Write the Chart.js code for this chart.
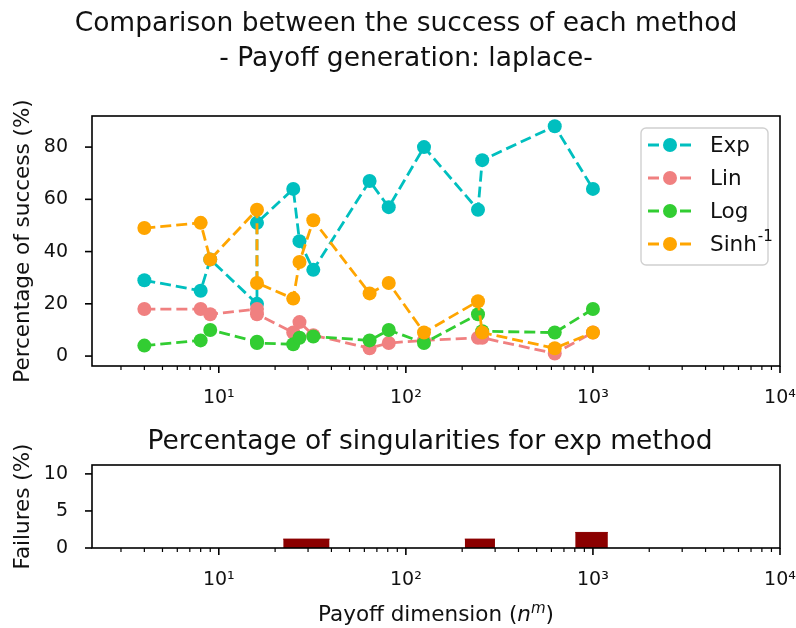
<!DOCTYPE html>
<html>
<head>
<meta charset="utf-8">
<script src="https://cdn.jsdelivr.net/npm/chart.js@4.4.1/dist/chart.umd.min.js"></script>
<style>
  html, body { margin: 0; padding: 0; background: #fff; overflow: hidden; width: 796px; height: 628px; }
  canvas { position: absolute; left: 0; }
  #successChart { top: 0; }
  #failChart { top: 400px; }
</style>
</head>
<body>
<canvas id="successChart" width="840" height="420"></canvas>
<canvas id="failChart" width="840" height="228"></canvas>
<script>
// Payoff dimensions (n^m) tested
const dims = [4, 8, 9, 16, 16, 25, 27, 32, 64, 81, 125, 243, 256, 625, 1000];

// Success rate (%) of each method
const expSuccess  = [29, 25, 37, 20, 51, 64, 44, 33, 67, 57, 80, 56, 75, 88, 64];
const linSuccess  = [18, 18, 16, 18, 16, 9, 13, 8, 3, 5, 6, 7, 7, 1, 9];
const logSuccess  = [4, 6, 10, 5.5, 5, 4.5, 7, 7.5, 6, 10, 5, 16, 9.5, 9, 18];
const sinhSuccess = [49, 51, 37, 56, 28, 22, 36, 52, 24, 28, 9, 21, 9, 3, 9];

// Singularities of the exp method: bar centre, bar width, failure rate (%)
const failCenters = [30.6, 253, 1003];
const failWidths  = [17, 93, 398];
const failRates   = [1.2, 1.2, 2.1];

// Axis ticks
const decadeTicks  = [10, 100, 1000, 10000];
const decadeLabels = ['10\u00B9', '10\u00B2', '10\u00B3', '10\u2074'];
const successTicks = [0, 20, 40, 60, 80];
const failureTicks = [0, 5, 10];

const FONT = '"DejaVu Sans", "Liberation Sans", sans-serif';
const TICK_FONT = { family: FONT, size: 19 };
const LABEL_SIZE = 21.5;
const TITLE_SIZE = 26.5;
const INK = '#111';

const SUPERSCRIPTS = { '\u207B': '-', '\u00B9': '1', '\u00B2': '2', '\u00B3': '3', '\u2074': '4' };

// Draws "base" followed by a raised, smaller exponent (e.g. Sinh⁻¹)
function drawWithExponent(ctx, text, x, y, size) {
  let i = text.length;
  while (i > 0 && SUPERSCRIPTS[text[i - 1]]) i--;
  const base = text.slice(0, i);
  const sup = text.slice(i).split('').map(c => SUPERSCRIPTS[c]).join('');
  ctx.font = size + 'px ' + FONT;
  ctx.fillText(base, x, y);
  const w = ctx.measureText(base).width;
  if (!sup) return w;
  ctx.font = (size * 0.7) + 'px ' + FONT;
  ctx.fillText(sup, x + w + 1, y - size * 0.38);
  return w + 1 + ctx.measureText(sup).width;
}

// Centred title lines drawn above the axes
const titleLines = {
  id: 'titleLines',
  afterDraw(chart, args, opts) {
    const { ctx } = chart;
    ctx.save();
    ctx.fillStyle = INK;
    ctx.font = TITLE_SIZE + 'px ' + FONT;
    ctx.textAlign = 'center';
    ctx.textBaseline = 'middle';
    opts.lines.forEach((t, i) => ctx.fillText(t, opts.centerX, opts.firstY + i * opts.lineGap));
    ctx.restore();
  }
};

// Outward tick marks (major + log minor) and the full frame around the plot
const frameTicks = {
  id: 'frameTicks',
  afterDraw(chart) {
    const { ctx, chartArea: a, scales: { x, y } } = chart;
    ctx.save();
    ctx.strokeStyle = '#000';
    ctx.lineWidth = 1.2;
    for (let e = 0; e < 4; e++) {
      for (let m = 2; m <= 9; m++) {
        const v = m * Math.pow(10, e);
        if (v < x.min || v > x.max) continue;
        const px = x.getPixelForValue(v);
        ctx.beginPath(); ctx.moveTo(px, a.bottom); ctx.lineTo(px, a.bottom + 4); ctx.stroke();
      }
    }
    ctx.lineWidth = 1.6;
    x.ticks.forEach(t => {
      const px = x.getPixelForValue(t.value);
      ctx.beginPath(); ctx.moveTo(px, a.bottom); ctx.lineTo(px, a.bottom + 7); ctx.stroke();
    });
    y.ticks.forEach(t => {
      const py = y.getPixelForValue(t.value);
      ctx.beginPath(); ctx.moveTo(a.left - 7, py); ctx.lineTo(a.left, py); ctx.stroke();
    });
    ctx.strokeRect(a.left, a.top, a.right - a.left, a.bottom - a.top);
    ctx.restore();
  }
};

// Legend with dashed-line + marker handles, upper right inside the axes
const lineLegend = {
  id: 'lineLegend',
  afterDraw(chart) {
    const { ctx, chartArea: a } = chart;
    const sets = chart.data.datasets;
    const rowH = 33;
    const boxW = 127, boxH = 137;
    const boxL = a.right - 12 - boxW;
    const boxT = a.top + 12;
    ctx.save();
    ctx.fillStyle = 'rgba(255,255,255,0.8)';
    ctx.strokeStyle = '#d0d0d0';
    ctx.lineWidth = 1.4;
    ctx.beginPath();
    ctx.roundRect(boxL, boxT, boxW, boxH, 5);
    ctx.fill();
    ctx.stroke();
    sets.forEach((d, i) => {
      const cy = boxT + 17 + i * rowH;
      const hx0 = boxL + 7, hx1 = hx0 + 44;
      ctx.strokeStyle = d.borderColor;
      ctx.lineWidth = d.borderWidth;
      ctx.setLineDash(d.borderDash);
      ctx.beginPath(); ctx.moveTo(hx0, cy); ctx.lineTo(hx1, cy); ctx.stroke();
      ctx.setLineDash([]);
      ctx.fillStyle = d.pointBackgroundColor;
      ctx.beginPath(); ctx.arc((hx0 + hx1) / 2, cy, d.pointRadius, 0, Math.PI * 2); ctx.fill();
      ctx.fillStyle = INK;
      ctx.textBaseline = 'middle';
      ctx.textAlign = 'left';
      drawWithExponent(ctx, d.label, boxL + 69, cy + 1, LABEL_SIZE);
    });
    ctx.restore();
  }
};

// Bottom axis caption "Payoff dimension (n^m)" with italic n and exponent m
const xCaption = {
  id: 'xCaption',
  afterDraw(chart) {
    const { ctx, chartArea: a } = chart;
    const s = LABEL_SIZE;
    const parts = [
      { t: 'Payoff dimension (', f: s + 'px ' + FONT, dy: 0 },
      { t: 'n', f: 'italic ' + s + 'px ' + FONT, dy: 0 },
      { t: 'm', f: 'italic ' + (s * 0.7) + 'px ' + FONT, dy: -s * 0.38 },
      { t: ')', f: s + 'px ' + FONT, dy: 0 }
    ];
    ctx.save();
    ctx.fillStyle = INK;
    ctx.textBaseline = 'alphabetic';
    ctx.textAlign = 'left';
    let total = 0;
    parts.forEach(p => { ctx.font = p.f; p.w = ctx.measureText(p.t).width; total += p.w; });
    let x = (a.left + a.right) / 2 - total / 2;
    const baseY = chart.height - 7;
    parts.forEach(p => { ctx.font = p.f; ctx.fillText(p.t, x, baseY + p.dy); x += p.w; });
    ctx.restore();
  }
};

function series(label, values, color, order) {
  return {
    label,
    data: dims.map((d, i) => ({ x: d, y: values[i] })),
    borderColor: color,
    backgroundColor: color,
    pointBackgroundColor: color,
    borderWidth: 2.8,
    borderDash: [11, 5],
    pointRadius: 7,
    pointBorderWidth: 0,
    fill: false,
    tension: 0,
    order
  };
}

function logX(height) {
  return {
    type: 'logarithmic',
    position: 'bottom',
    min: 2.1,
    max: 10000,
    grid: { display: false },
    border: { display: false },
    afterBuildTicks: s => { s.ticks = decadeTicks.map(v => ({ value: v, major: true })); },
    afterFit: s => { s.height = height; },
    ticks: {
      autoSkip: false,
      maxRotation: 0,
      padding: 13,
      color: INK,
      font: TICK_FONT,
      callback: v => decadeLabels[decadeTicks.indexOf(v)]
    }
  };
}

function linY(min, max, tickVals, title) {
  return {
    type: 'linear',
    min, max,
    grid: { display: false },
    border: { display: false },
    afterBuildTicks: s => { s.ticks = tickVals.map(v => ({ value: v })); },
    afterFit: s => { s.width = 92; },
    ticks: { padding: 16, color: INK, font: TICK_FONT },
    title: { display: true, text: title, color: INK, font: { family: FONT, size: LABEL_SIZE, lineHeight: 1 }, padding: { top: 13, bottom: 0 } }
  };
}

new Chart(document.getElementById('successChart'), {
  type: 'line',
  data: {
    datasets: [
      series('Exp', expSuccess, '#00BFBF', 3),
      series('Lin', linSuccess, '#F08080', 2),
      series('Log', logSuccess, '#32CD32', 1),
      series('Sinh\u207B\u00B9', sinhSuccess, '#FFA500', 0)
    ]
  },
  options: {
    responsive: false,
    devicePixelRatio: 1,
    animation: false,
    events: [],
    layout: { padding: { left: 0, right: 60, top: 116, bottom: 0 } },
    scales: {
      x: logX(54),
      y: linY(-3.8, 91.9, successTicks, 'Percentage of success (%)')
    },
    plugins: {
      legend: { display: false },
      tooltip: { enabled: false },
      title: { display: false },
      titleLines: {
        lines: ['Comparison between the success of each method', '- Payoff generation: laplace-'],
        centerX: 406,
        firstY: 24,
        lineGap: 35
      }
    }
  },
  plugins: [frameTicks, lineLegend, titleLines]
});

new Chart(document.getElementById('failChart'), {
  type: 'line',
  data: {
    datasets: failCenters.map((c, i) => ({
      label: 'Failures',
      data: [{ x: c - failWidths[i] / 2, y: failRates[i] }, { x: c + failWidths[i] / 2, y: failRates[i] }],
      borderColor: '#8B0000',
      backgroundColor: '#8B0000',
      borderWidth: 1,
      pointRadius: 0,
      fill: 'origin'
    }))
  },
  options: {
    responsive: false,
    devicePixelRatio: 1,
    animation: false,
    events: [],
    layout: { padding: { left: 0, right: 60, top: 65, bottom: 0 } },
    scales: {
      x: logX(80),
      y: linY(0, 11.2, failureTicks, 'Failures (%)')
    },
    plugins: {
      legend: { display: false },
      tooltip: { enabled: false },
      title: { display: false },
      titleLines: {
        lines: ['Percentage of singularities for exp method'],
        centerX: 430,
        firstY: 42,
        lineGap: 0
      }
    }
  },
  plugins: [frameTicks, xCaption, titleLines]
});
</script>
</body>
</html>
